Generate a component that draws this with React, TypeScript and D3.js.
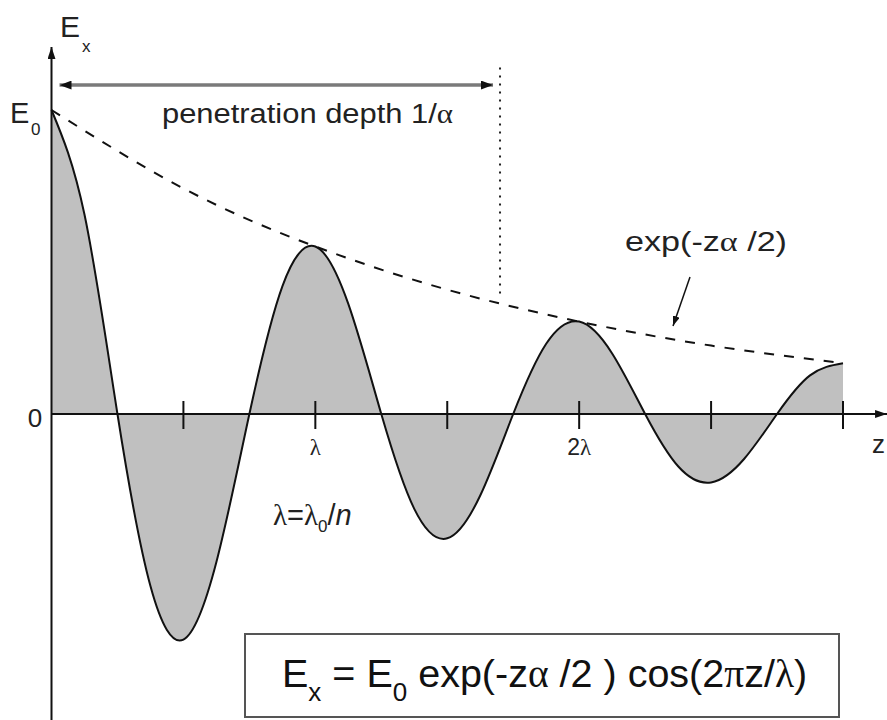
import React from "react";
import * as d3 from "d3";

// Position along z, in units of the wavelength λ
const zSamples = [
  0, 0.125, 0.25, 0.375, 0.5, 0.625, 0.75, 0.875,
  1, 1.125, 1.25, 1.375, 1.5, 1.625, 1.75, 1.875,
  2, 2.125, 2.25, 2.375, 2.5, 2.625, 2.75, 2.875, 3,
];
// Field E_x in units of E0
const fieldValues = [
  1.0, 0.656, 0, -0.566, -0.742, -0.487, 0, 0.42,
  0.551, 0.362, 0, -0.312, -0.409, -0.268, 0, 0.231,
  0.304, 0.199, 0, -0.172, -0.225, -0.148, 0, 0.127, 0.167,
];
// Decay envelope exp(-zα/2)
const envelopeZ = [0, 0.5, 1, 1.5, 2, 2.5, 3];
const envelopeValues = [1, 0.742, 0.551, 0.409, 0.304, 0.225, 0.167];

// Axis ticks every half wavelength; labels only on whole wavelengths
const tickZ = [0.5, 1, 1.5, 2, 2.5, 3];
const tickLabels = ["", "λ", "", "2λ", "", ""];

// Penetration depth 1/α (in λ) and the level of its arrow (in E0)
const penetrationDepth = 1.7;
const depthArrowLevel = 1.082;
const depthLineTop = 1.14;
const depthLineBottom = 0.385;

const W = 887;
const H = 720;

const x = d3.scaleLinear().domain([0, 3]).range([51.5, 843]);
const y = d3.scaleLinear().domain([0, 1]).range([414, 110]);

const SANS = "'Liberation Sans', Arial, Helvetica, sans-serif";
const SERIF = "'Liberation Serif', 'Times New Roman', serif";

export default function App() {
  const pts: [number, number][] = zSamples.map((z, i) => [z, fieldValues[i]]);
  const envPts: [number, number][] = envelopeZ.map((z, i) => [z, envelopeValues[i]]);

  const area = d3
    .area<[number, number]>()
    .x((d) => x(d[0]))
    .y0(y(0))
    .y1((d) => y(d[1]))
    .curve(d3.curveNatural);
  const line = d3
    .line<[number, number]>()
    .x((d) => x(d[0]))
    .y((d) => y(d[1]))
    .curve(d3.curveNatural);

  const x0 = x(0);
  const y0 = y(0);
  const xEnd = x(3.167);
  const yTop = y(1.207);
  const xDepth = x(penetrationDepth);
  const yArrow = y(depthArrowLevel);

  return (
    <svg
      width={W}
      height={H}
      style={{ position: "absolute", left: 0, top: 0, background: "#fff" }}
      fontFamily={SANS}
    >
      <defs>
        <marker id="headBig" viewBox="0 0 12 9" refX="12" refY="4.5" markerWidth="12" markerHeight="9" markerUnits="userSpaceOnUse" orient="auto-start-reverse">
          <path d="M0,0 L12,4.5 L0,9 z" fill="#111" />
        </marker>
        <marker id="headAxis" viewBox="0 0 12 8" refX="12" refY="4" markerWidth="12" markerHeight="8" markerUnits="userSpaceOnUse" orient="auto">
          <path d="M0,0 L12,4 L0,8 z" fill="#111" />
        </marker>
        <marker id="headSmall" viewBox="0 0 10 7" refX="10" refY="3.5" markerWidth="10" markerHeight="7" markerUnits="userSpaceOnUse" orient="auto">
          <path d="M0,0 L10,3.5 L0,7 z" fill="#111" />
        </marker>
      </defs>

      {/* shaded field */}
      <path d={area(pts) ?? ""} fill="#c0c0c0" stroke="none" />

      {/* axes */}
      <line x1={x0} y1={H} x2={x0} y2={yTop} stroke="#111" strokeWidth={2} markerEnd="url(#headAxis)" />
      <line x1={x0} y1={y0} x2={xEnd} y2={y0} stroke="#111" strokeWidth={2} markerEnd="url(#headAxis)" />
      {tickZ.map((t) => (
        <line key={t} x1={x(t)} x2={x(t)} y1={y0 - 13} y2={y0 + 15} stroke="#111" strokeWidth={2} />
      ))}
      {tickZ.map((t, i) =>
        tickLabels[i] ? (
          <text key={"l" + t} x={x(t)} y={y0 + 41} textAnchor="middle" fontSize={23} fill="#222">
            {tickLabels[i].split("").map((c, k) => (
              <tspan key={k} fontFamily={c === "λ" ? SERIF : SANS}>{c}</tspan>
            ))}
          </text>
        ) : null
      )}

      {/* field curve */}
      <path d={line(pts) ?? ""} fill="none" stroke="#111" strokeWidth={2} />

      {/* envelope */}
      <path d={line(envPts) ?? ""} fill="none" stroke="#111" strokeWidth={2} strokeDasharray="10 10" />

      {/* penetration depth */}
      <line x1={xDepth} x2={xDepth} y1={y(depthLineTop)} y2={y(depthLineBottom)} stroke="#222" strokeWidth={2} strokeDasharray="2 6" />
      <line
        x1={x0 + 8}
        x2={xDepth - 7}
        y1={yArrow}
        y2={yArrow}
        stroke="#7a7a7a"
        strokeWidth={3.5}
        markerStart="url(#headBig)"
        markerEnd="url(#headBig)"
      />
      <text x={162} y={123} fontSize={27} textLength={291} lengthAdjust="spacingAndGlyphs" fill="#222">
        penetration depth 1/<tspan fontFamily={SERIF}>α</tspan>
      </text>

      {/* envelope label */}
      <text x={625} y={251} fontSize={28} textLength={162} lengthAdjust="spacingAndGlyphs" fill="#222">
        exp(-z<tspan fontFamily={SERIF}>α</tspan> /2)
      </text>
      <line x1={690} y1={277} x2={673} y2={326} stroke="#111" strokeWidth={1.5} markerEnd="url(#headSmall)" />

      {/* axis labels */}
      <text x={60} y={37} fontSize={30} fill="#222">E</text>
      <text x={82} y={52} fontSize={17} fill="#222">x</text>
      <text x={10} y={123} fontSize={29} fill="#222">E</text>
      <text x={31} y={135} fontSize={17} fill="#222">0</text>
      <text x={35} y={427} textAnchor="middle" fontSize={26} fill="#222">0</text>
      <text x={872} y={453} fontSize={26} fill="#222">z</text>

      {/* wavelength in the medium */}
      <text x={273} y={525} fontSize={29} fill="#222">
        <tspan fontFamily={SERIF}>λ</tspan>=<tspan fontFamily={SERIF}>λ</tspan>
        <tspan fontSize={17} dy={7}>0</tspan>
        <tspan dy={-7}>/</tspan>
        <tspan fontStyle="italic">n</tspan>
      </text>

      {/* formula box */}
      <rect x={245} y={634} width={594} height={83} fill="#fff" stroke="#555" strokeWidth={2} />
      <text x={282} y={687} fontSize={39.5} fill="#111">
        E<tspan fontSize={26} dy={14}>x</tspan>
        <tspan dy={-14}> = E</tspan>
        <tspan fontSize={26} dy={14}>0</tspan>
        <tspan dy={-14}> exp(-z</tspan>
        <tspan fontFamily={SERIF}>α</tspan>
        <tspan> /2 ) cos(2</tspan>
        <tspan fontFamily={SERIF}>π</tspan>
        <tspan>z/</tspan>
        <tspan fontFamily={SERIF}>λ</tspan>
        <tspan>)</tspan>
      </text>
    </svg>
  );
}
